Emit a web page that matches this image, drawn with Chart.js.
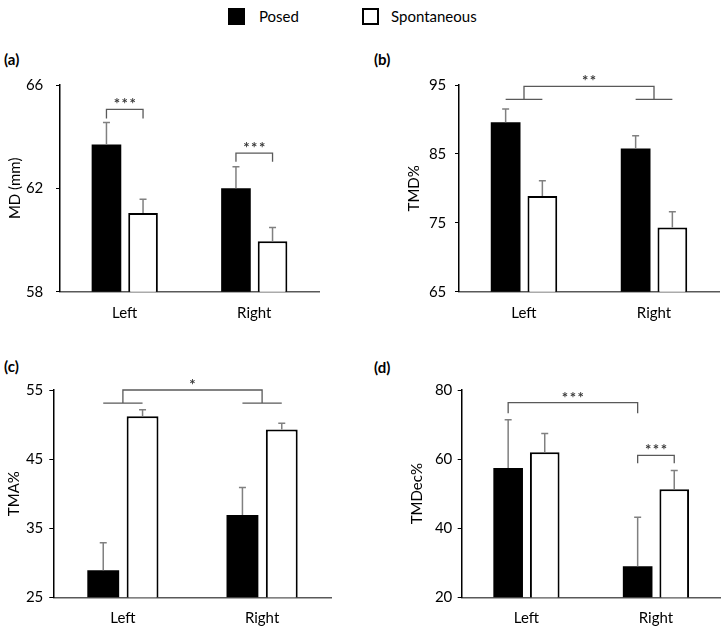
<!DOCTYPE html>
<html>
<head>
<meta charset="utf-8">
<script src="https://cdn.jsdelivr.net/npm/chart.js@4.4.1/dist/chart.umd.min.js"></script>
<style>
  body { margin: 0; width: 728px; height: 634px; position: relative; background: #fff; font-family: Lato, sans-serif; overflow: hidden; }
  canvas { position: absolute; }
  .tag { position: absolute; font-weight: bold; font-size: 15px; color: #000; }
  .key { position: absolute; width: 17px; height: 17px; box-sizing: border-box; }
  .keytxt { position: absolute; font-size: 15px; color: #000; line-height: 17px; }
</style>
</head>
<body>
<div class="key" style="left:228px;top:8px;background:#000"></div>
<div class="keytxt" style="left:259px;top:8px">Posed</div>
<div class="key" style="left:362px;top:8px;background:#fff;border:2px solid #000"></div>
<div class="keytxt" style="left:391px;top:8px">Spontaneous</div>

<div class="tag" style="left:4px;top:50px">(a)</div>
<div class="tag" style="left:374px;top:50px">(b)</div>
<div class="tag" style="left:4px;top:357px">(c)</div>
<div class="tag" style="left:374px;top:358px">(d)</div>

<canvas id="pa" width="364" height="300" style="left:0;top:40px"></canvas>
<canvas id="pb" width="364" height="300" style="left:364px;top:40px"></canvas>
<canvas id="pc" width="364" height="294" style="left:0;top:340px"></canvas>
<canvas id="pd" width="364" height="294" style="left:364px;top:340px"></canvas>

<script>
const categories = ['Left', 'Right'];

// (a) MD (mm)
const mdPosed = [63.7, 62.0];
const mdPosedErr = [0.85, 0.84];
const mdSpont = [61.05, 59.95];
const mdSpontErr = [0.53, 0.53];

// (b) TMD%
const tmdPosed = [89.6, 85.8];
const tmdPosedErr = [1.9, 1.85];
const tmdSpont = [78.9, 74.3];
const tmdSpontErr = [2.2, 2.3];

// (c) TMA%
const tmaPosed = [28.9, 36.9];
const tmaPosedErr = [4.0, 4.0];
const tmaSpont = [51.2, 49.3];
const tmaSpontErr = [0.95, 0.9];

// (d) TMDec%
const tmdecPosed = [57.4, 29.0];
const tmdecPosedErr = [14.0, 14.2];
const tmdecSpont = [62.0, 51.3];
const tmdecSpontErr = [5.4, 5.4];

// significance marks: [category, dataset] ends, bracket level, drop level
const aBrackets = [
  { from: [0, 0], to: [0, 1], y: 65.06, end: 64.7, label: '***' },
  { from: [1, 0], to: [1, 1], y: 63.36, end: 63.03, label: '***' },
];
const bGroups = [{ y: 94.8, cap: 92.9, label: '**' }];
const cGroups = [{ y: 55, cap: 53.1, label: '*' }];
const dBrackets = [
  { from: [0, 0], to: [1, 0], y: 76.35, end: 73.26, label: '***' },
  { from: [1, 0], to: [1, 1], y: 61.1, end: 58.8, label: '***' },
];

const FONT = 'Lato, sans-serif';
const LINE = '#595959';

function drawStars(ctx, text, x, y) {
  ctx.save();
  ctx.fillStyle = '#3a3a3a';
  ctx.font = 'bold 15px ' + FONT;
  ctx.letterSpacing = '1.5px';
  ctx.textAlign = 'center';
  ctx.textBaseline = 'alphabetic';
  ctx.fillText(text, x + 0.75, y + 1);
  ctx.restore();
}

const marks = {
  id: 'marks',
  afterDatasetsDraw(chart, args, opts) {
    const { ctx } = chart;
    const ys = chart.scales.y;
    const xs = chart.scales.x;
    const barX = (c, d) => chart.getDatasetMeta(d).data[c].x;

    // error bars
    ctx.save();
    ctx.strokeStyle = '#808080';
    ctx.lineWidth = 1.5;
    chart.data.datasets.forEach((ds, d) => {
      chart.getDatasetMeta(d).data.forEach((bar, i) => {
        const top = ys.getPixelForValue(ds.data[i] + ds.err[i]);
        ctx.beginPath();
        ctx.moveTo(bar.x, bar.y);
        ctx.lineTo(bar.x, top);
        ctx.moveTo(bar.x - 3.5, top);
        ctx.lineTo(bar.x + 3.5, top);
        ctx.stroke();
      });
    });
    ctx.restore();

    ctx.save();
    ctx.strokeStyle = LINE;
    ctx.lineWidth = 1.3;
    (opts.brackets || []).forEach(b => {
      const x1 = barX(b.from[0], b.from[1]);
      const x2 = barX(b.to[0], b.to[1]);
      const y = ys.getPixelForValue(b.y);
      const e = ys.getPixelForValue(b.end);
      ctx.beginPath();
      ctx.moveTo(x1, e);
      ctx.lineTo(x1, y);
      ctx.lineTo(x2, y);
      ctx.lineTo(x2, e);
      ctx.stroke();
      drawStars(ctx, b.label, (x1 + x2) / 2, y - 1);
    });
    (opts.groups || []).forEach(g => {
      const y = ys.getPixelForValue(g.y);
      const c = ys.getPixelForValue(g.cap);
      const c0 = xs.getPixelForValue(0);
      const c1 = xs.getPixelForValue(1);
      ctx.beginPath();
      ctx.moveTo(c0, c);
      ctx.lineTo(c0, y);
      ctx.lineTo(c1, y);
      ctx.lineTo(c1, c);
      [0, 1].forEach(i => {
        ctx.moveTo(barX(i, 0), c);
        ctx.lineTo(barX(i, 1), c);
      });
      ctx.stroke();
      drawStars(ctx, g.label, (c0 + c1) / 2, y - 1);
    });
    ctx.restore();
  }
};

function makePanel(id, cfg) {
  new Chart(document.getElementById(id), {
    type: 'bar',
    data: {
      labels: categories,
      datasets: [
        { label: 'Posed', data: cfg.posed, err: cfg.posedErr, backgroundColor: '#000', borderWidth: 0 },
        { label: 'Spontaneous', data: cfg.spont, err: cfg.spontErr, backgroundColor: '#fff', borderColor: '#000', borderWidth: 2 },
      ]
    },
    options: {
      responsive: false,
      animation: false,
      events: [],
      categoryPercentage: 0.565,
      barPercentage: 0.81,
      layout: { padding: { left: 0, top: cfg.top, right: cfg.right, bottom: 0 } },
      plugins: {
        legend: { display: false },
        tooltip: { enabled: false },
        marks: { brackets: cfg.brackets, groups: cfg.groups },
      },
      scales: {
        x: {
          grid: { display: false, drawTicks: false },
          border: { color: LINE, width: 1.5 },
          ticks: { color: '#000', font: { family: FONT, size: 15 }, padding: 12 },
          afterFit: s => { s.height = cfg.xh; },
        },
        y: {
          min: cfg.min, max: cfg.max,
          grid: { drawOnChartArea: false, drawTicks: true, tickLength: 4, color: '#000' },
          border: { color: '#000', width: 1.5 },
          ticks: { stepSize: cfg.step, color: '#000', font: { family: FONT, size: 15 }, padding: cfg.tpad },
          title: { display: true, text: cfg.title, color: '#000', font: { family: FONT, size: 15 }, padding: { top: cfg.titlePad, bottom: 0 } },
          afterFit: s => { s.width = cfg.yw; },
        }
      }
    },
    plugins: [marks]
  });
}

makePanel('pa', { posed: mdPosed, posedErr: mdPosedErr, spont: mdSpont, spontErr: mdSpontErr,
  min: 58, max: 66, step: 4, title: 'MD (mm)', brackets: aBrackets,
  top: 45, right: 45, yw: 60, xh: 48.3, tpad: 12.7, titlePad: 6 });

makePanel('pb', { posed: tmdPosed, posedErr: tmdPosedErr, spont: tmdSpont, spontErr: tmdSpontErr,
  min: 65, max: 95, step: 10, title: 'TMD%', groups: bGroups,
  top: 45, right: 9, yw: 95, xh: 48.3, tpad: 8.7, titlePad: 41.4 });

makePanel('pc', { posed: tmaPosed, posedErr: tmaPosedErr, spont: tmaSpont, spontErr: tmaSpontErr,
  min: 25, max: 55, step: 10, title: 'TMA%', groups: cGroups,
  top: 50, right: 32.3, yw: 53.3, xh: 36.7, tpad: 6, titlePad: 5 });

makePanel('pd', { posed: tmdecPosed, posedErr: tmdecPosedErr, spont: tmdecSpont, spontErr: tmdecSpontErr,
  min: 20, max: 80, step: 20, title: 'TMDec%', brackets: dBrackets,
  top: 50, right: 7.3, yw: 97.7, xh: 36.7, tpad: 5.4, titlePad: 44.4 });
</script>
</body>
</html>
